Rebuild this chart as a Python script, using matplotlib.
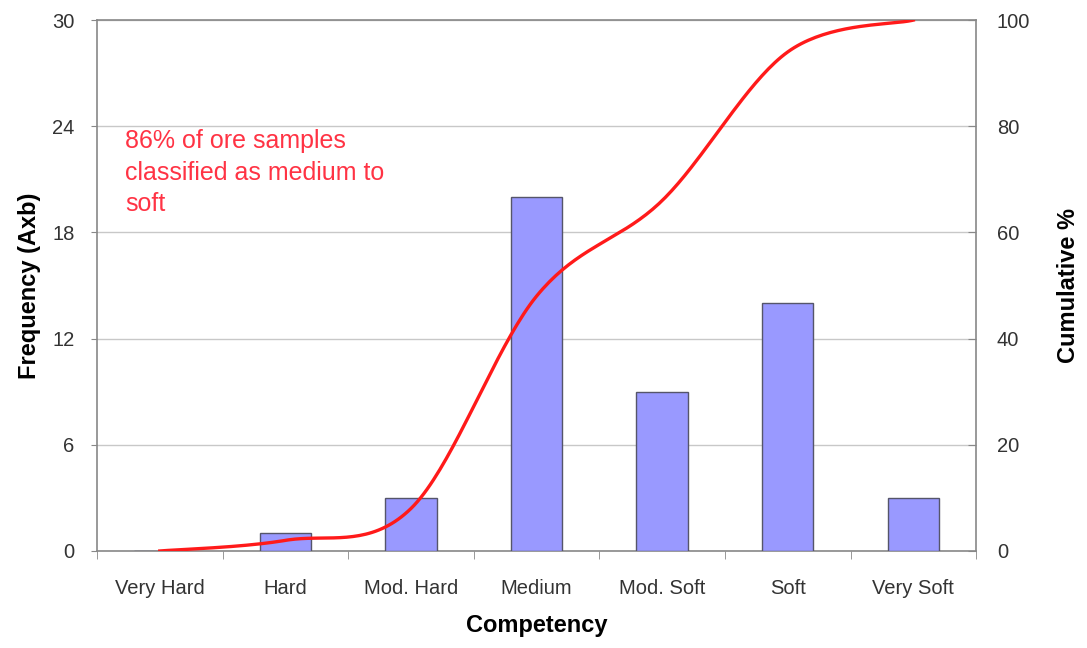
import numpy as np
import matplotlib.pyplot as plt

categories = ['Very Hard', 'Hard', 'Mod. Hard', 'Medium', 'Mod. Soft', 'Soft', 'Very Soft']
frequency = [0, 1, 3, 20, 9, 14, 3]
cumulative = [0, 2, 8, 48, 66, 94, 100]
freq_ticks = [0, 6, 12, 18, 24, 30]
cum_ticks = [0, 20, 40, 60, 80, 100]

plt.rcParams['font.family'] = ['Liberation Sans', 'DejaVu Sans']


def smooth_line(xs, ys, n=40):
    """Excel-style smoothed line (Catmull-Rom as cubic Bezier)."""
    pts = np.column_stack([xs, ys]).astype(float)
    out = []
    for i in range(len(pts) - 1):
        p0 = pts[max(i - 1, 0)]
        p1 = pts[i]
        p2 = pts[i + 1]
        p3 = pts[min(i + 2, len(pts) - 1)]
        c1 = p1 + (p2 - p0) / 6.0
        c2 = p2 - (p3 - p1) / 6.0
        t = np.linspace(0, 1, n)[:, None]
        seg = ((1 - t) ** 3) * p1 + 3 * ((1 - t) ** 2) * t * c1 + 3 * (1 - t) * t ** 2 * c2 + t ** 3 * p2
        out.append(seg if i == 0 else seg[1:])
    seg = np.vstack(out)
    return seg[:, 0], seg[:, 1]


fig = plt.figure(figsize=(10.87, 6.48), dpi=100)
ax = fig.add_axes([0.0892, 0.1497, 0.8088, 0.8193])

x = np.arange(len(categories))
ax.bar(x, frequency, width=0.41, color='#9999FF', edgecolor='#55556a', linewidth=1.0, zorder=3)

ax.set_xlim(-0.5, len(categories) - 0.5)
ax.set_ylim(0, 30)
ax.set_yticks(freq_ticks)
ax.set_xticks(x)
ax.set_xticklabels(categories, fontsize=14.5, color='#333333')
ax.set_xticks(np.arange(len(categories) + 1) - 0.5, minor=True)
ax.tick_params(axis='x', which='major', length=0, pad=20)
ax.tick_params(axis='x', which='minor', length=6, color='#888888', direction='out')
ax.tick_params(axis='y', labelsize=14.5, labelcolor='#333333', length=4, color='#888888', pad=12)
ax.grid(axis='y', color='#c8c8c8', linewidth=1.0, zorder=0)
for s in ax.spines.values():
    s.set_color('#888888')
    s.set_linewidth(1.2)

ax.set_xlabel('Competency', fontsize=17, fontweight='bold', labelpad=12)
ax.set_ylabel('Frequency (Axb)', fontsize=17, fontweight='bold', labelpad=8)

ax2 = ax.twinx()
ax2.set_ylim(0, 100)
ax2.set_yticks(cum_ticks)
ax2.tick_params(axis='y', labelsize=14.5, labelcolor='#333333', length=6, color='#888888',
                direction='in', pad=15)
for s in ax2.spines.values():
    s.set_visible(False)

cx, cy = smooth_line(x, cumulative)
ax2.plot(cx, cy, color='#FF1A1A', linewidth=2.4, zorder=4)
ax2.set_ylabel('Cumulative %', fontsize=17, fontweight='bold', labelpad=19)

ax.text(0.032, 0.795, '86% of ore samples\nclassified as medium to\nsoft', transform=ax.transAxes,
        fontsize=18, color='#FF3344', va='top', ha='left', linespacing=1.4)

fig.savefig('out.png', dpi=100)
